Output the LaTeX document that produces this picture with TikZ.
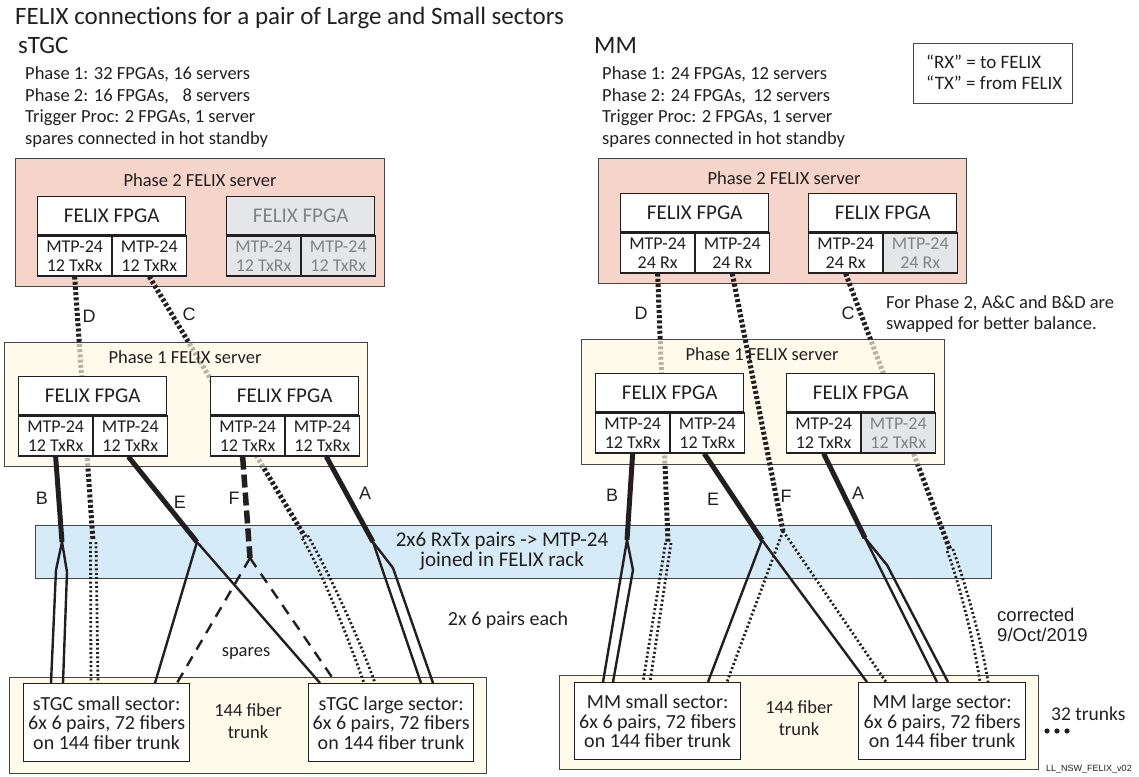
\documentclass[tikz,border=0pt]{standalone}
\usepackage{fontspec}
\setmainfont{Carlito}
\newfontfamily\arialfont{Liberation Sans}
\usetikzlibrary{calc}

\definecolor{ink}{RGB}{35,31,32}
\definecolor{edge}{RGB}{70,70,70}
\definecolor{pinkfill}{RGB}{245,212,201}
\definecolor{creamserver}{RGB}{253,249,228}
\definecolor{creamtrunk}{RGB}{254,251,235}
\definecolor{bandblue}{RGB}{213,235,247}
\definecolor{idlefill}{RGB}{229,230,232}
\definecolor{idletext}{RGB}{130,130,130}

\newcommand\fsz[2]{\fontsize{#1}{#2}\selectfont}

\tikzset{
  box/.style={draw=edge, line width=1.3pt, inner sep=0pt, anchor=north west, text=ink},
  srvtwo/.style={box, fill=pinkfill},
  srvone/.style={box, fill=creamserver, fill opacity=0.68, text opacity=1},
  trunkbox/.style={box, fill=creamtrunk},
  fpgatitle/.style={box, draw=ink, fill=white, font=\fsz{21}{24}, minimum width=148pt, minimum height=38pt},
  mtpcell/.style={box, draw=ink, fill=white, align=center, font=\fsz{18}{18.5}, minimum width=74pt, minimum height=40pt},
  idle/.style={fill=idlefill, text=idletext},
  sector/.style={box, draw=ink, fill=white, align=center, font=\fsz{20}{19.5}},
  txtlbl/.style={text=ink, font=\fsz{18.5}{21}, inner sep=0pt},
  headline/.style={text=ink, font=\fsz{25}{28}, inner sep=0pt, anchor=base west},
  letter/.style={text=ink, font=\arialfont\fsz{18}{20}, inner sep=0pt},
  bundle/.style={draw=ink, line width=5pt},
  pair/.style={draw=ink, line width=2.4pt},
  bundledot/.style={draw=ink, line width=5pt, dash pattern=on 3pt off 2.2pt},
  pairdot/.style={draw=ink, line width=2.8pt, dash pattern=on 2pt off 2.4pt},
  bundledash/.style={draw=ink, line width=5.5pt, dash pattern=on 13pt off 5pt},
  pairdash/.style={draw=ink, line width=2.4pt, dash pattern=on 11pt off 8pt},
}

% FELIX FPGA card: title box with two MTP-24 cells below it
% #1 name, #2 top-left corner, #3 title style, #4 left cell style, #5 right cell style, #6 cell text
\newcommand\felixcard[6]{%
  \node[fpgatitle,#3] (#1) at #2 {FELIX FPGA};
  \node[mtpcell,#4] (#1-l) at (#1.south west) {#6};
  \node[mtpcell,#5] (#1-r) at (#1.south) {#6};
}

\begin{document}
\begin{tikzpicture}[x=1pt,y=-1pt]
\useasboundingbox (0,0) rectangle (1139,776);

% ---------- headings and notes ----------
\node[headline] (title) at (15,25) {FELIX connections for a pair of Large and Small sectors};
\node[headline] (stgc) at (18,53) {sTGC};
\node[headline] (mm) at (594,54) {MM};

\node[txtlbl, anchor=base west] (sn1) at (25,79) {Phase 1: 32 FPGAs, 16 servers};
\node[txtlbl, anchor=base west] (sn2) at (25,101) {Phase 2: 16 FPGAs, \hphantom{1}8 servers};
\node[txtlbl, anchor=base west] (sn3) at (25,122) {Trigger Proc: 2 FPGAs, 1 server};
\node[txtlbl, anchor=base west] (sn4) at (25,144) {spares connected in hot standby};

\node[txtlbl, anchor=base west] (mn1) at (602,79) {Phase 1: 24 FPGAs, 12 servers};
\node[txtlbl, anchor=base west] (mn2) at (602,101) {Phase 2: 24 FPGAs, \kern3pt12 servers};
\node[txtlbl, anchor=base west] (mn3) at (602,122) {Trigger Proc: 2 FPGAs, 1 server};
\node[txtlbl, anchor=base west] (mn4) at (602,144) {spares connected in hot standby};

\node[box, minimum width=159pt, minimum height=60pt] (legend) at (913,43) {};
\node[txtlbl, anchor=base west, font=\fsz{19}{21}] (rx) at (926,68) {“RX” = to FELIX};
\node[txtlbl, anchor=base west, font=\fsz{19}{21}] (tx) at (926,89) {“TX” = from FELIX};

\node[txtlbl, anchor=base west] (swap1) at (886,308) {For Phase 2, A\&C and B\&D are};
\node[txtlbl, anchor=base west] (swap2) at (886,329) {swapped for better balance.};

% ---------- Phase 2 servers ----------
\node[srvtwo, minimum width=369pt, minimum height=128pt] (stgc-p2) at (15,158) {};
\node[txtlbl] (stgc-p2-name) at (200,180) {Phase 2 FELIX server};
\felixcard{s2a}{(37,196)}{}{}{}{MTP-24\\12 TxRx}
\felixcard{s2b}{(226,196)}{idle}{idle}{idle}{MTP-24\\12 TxRx}

\node[srvtwo, minimum width=368pt, minimum height=125pt] (mm-p2) at (598,158) {};
\node[txtlbl] (mm-p2-name) at (784,178) {Phase 2 FELIX server};
\felixcard{m2a}{(620,193)}{}{}{}{MTP-24\\24 Rx}
\felixcard{m2b}{(808,193)}{}{}{idle}{MTP-24\\24 Rx}

% ---------- patch band ----------
\node[box, fill=bandblue, minimum width=956pt, minimum height=53pt] (band) at (35,525) {};
\node[txtlbl, align=center, font=\fsz{21}{20.5}] (bandtext) at (502,551) {2x6 RxTx pairs -> MTP-24\\joined in FELIX rack};

% ---------- trunks and sectors ----------
\node[trunkbox, minimum width=477pt, minimum height=96pt] (stgc-trunk) at (9,677) {};
\node[sector, minimum width=166pt, minimum height=78pt] (ss) at (23,683) {sTGC small sector:\\6x 6 pairs, 72 fibers\\on 144 fiber trunk};
\node[sector, minimum width=165pt, minimum height=78pt] (sl) at (308,683) {sTGC large sector:\\6x 6 pairs, 72 fibers\\on 144 fiber trunk};
\node[txtlbl, align=center, font=\fsz{18.5}{22}] (stgc-fib) at (248,721) {144 fiber\\trunk};

\node[trunkbox, minimum width=479pt, minimum height=94pt] (mm-trunk) at (559,675) {};
\node[sector, minimum width=166pt, minimum height=77pt] (ms) at (574,682) {MM small sector:\\6x 6 pairs, 72 fibers\\on 144 fiber trunk};
\node[sector, minimum width=167pt, minimum height=77pt] (ml) at (858,682) {MM large sector:\\6x 6 pairs, 72 fibers\\on 144 fiber trunk};
\node[txtlbl, align=center, font=\fsz{18.5}{22}] (mm-fib) at (799,718) {144 fiber\\trunk};

\node[txtlbl] (spares) at (246,653) {spares};
\node[txtlbl, font=\fsz{20}{22}] (each) at (508,620) {2x 6 pairs each};
\node[txtlbl, anchor=base west, font=\arialfont\fsz{18.5}{20}] (corr1) at (997,621) {corrected};
\node[txtlbl, anchor=base west, font=\arialfont\fsz{18.5}{20}] (corr2) at (997,641) {9/Oct/2019};
\node[txtlbl, anchor=base west, font=\fsz{19.5}{22}] (trunks) at (1051,720) {32 trunks};
\foreach \dx in {1047,1057,1067} \fill[ink] (\dx,731) circle (2.6);
\node[txtlbl, anchor=base west, font=\arialfont\fsz{9}{10}] (tag) at (1046,771) {LL\_NSW\_FELIX\_v02};

% ---------- fibre end points on the sector boxes ----------
\coordinate (ss-b1) at ($(ss.north west)+(28,0)$);
\coordinate (ss-b2) at ($(ss.north west)+(40,0)$);
\coordinate (ss-d1) at ($(ss.north west)+(68,0)$);
\coordinate (ss-d2) at ($(ss.north west)+(75,0)$);
\coordinate (ss-e)  at ($(ss.north west)+(132,0)$);
\coordinate (ss-f)  at ($(ss.north west)+(154,0)$);
\coordinate (sl-e)  at ($(sl.north west)+(12,0)$);
\coordinate (sl-f)  at ($(sl.north west)+(28,0)$);
\coordinate (sl-c1) at ($(sl.north west)+(56,0)$);
\coordinate (sl-c2) at ($(sl.north west)+(67,0)$);
\coordinate (sl-a1) at ($(sl.north west)+(113,0)$);
\coordinate (sl-a2) at ($(sl.north west)+(125,0)$);

\coordinate (ms-b1) at ($(ms.north west)+(29,0)$);
\coordinate (ms-b2) at ($(ms.north west)+(39,0)$);
\coordinate (ms-d1) at ($(ms.north west)+(69,0)$);
\coordinate (ms-d2) at ($(ms.north west)+(76,0)$);
\coordinate (ms-e)  at ($(ms.north west)+(134,0)$);
\coordinate (ms-f)  at ($(ms.north west)+(153,0)$);
\coordinate (ml-e)  at ($(ml.north west)+(9,0)$);
\coordinate (ml-f)  at ($(ml.north west)+(28,0)$);
\coordinate (ml-a1) at ($(ml.north west)+(79,0)$);
\coordinate (ml-a2) at ($(ml.north west)+(90,0)$);
\coordinate (ml-c1) at ($(ml.north west)+(122,0)$);
\coordinate (ml-c2) at ($(ml.north west)+(130,0)$);

% ---------- fan-out points in the patch band ----------
\coordinate (sB) at (62,542);
\coordinate (sD) at (93,541);  \coordinate (sDl) at (90.5,542); \coordinate (sDr) at (96,542);
\coordinate (sE) at (197,542);
\coordinate (sF) at (250,558);
\coordinate (sC) at (305,537); \coordinate (sCl) at (302.4,538.5); \coordinate (sCr) at (307.6,535.5);
\coordinate (sA) at (373,542);

\coordinate (mB) at (627,540);
\coordinate (mD) at (668,542); \coordinate (mDl) at (665.5,543); \coordinate (mDr) at (671,543);
\coordinate (mE) at (762,540);
\coordinate (mF) at (783,531);
\coordinate (mA) at (865,538);
\coordinate (mC) at (950,550); \coordinate (mCl) at (947.2,551); \coordinate (mCr) at (952.8,549);

% ---------- Phase 2 links that run behind the Phase 1 servers ----------
\draw[bundledot] (s2a-l.south) -- (sD);
\draw[pairdot] (sDl) -- (ss-d1);
\draw[pairdot] (sDr) -- (ss-d2);
\draw[bundledot] (s2a-r.south) -- (sC);
\draw[pairdot] (sCl) .. controls (322.8,573) and (350,643) .. (sl-c1);
\draw[pairdot] (sCr) .. controls (328,570) and (361,643) .. (sl-c2);

\draw[bundledot] (m2a-l.south) -- (mD);
\draw[pairdot] (mDl) -- (ms-d1);
\draw[pairdot] (mDr) -- (ms-d2);
\draw[bundledot] (m2b-l.south) -- (mC);
\draw[pairdot] (mCl) .. controls (959.5,584) and (974,642) .. (ml-c1);
\draw[pairdot] (mCr) .. controls (965,582) and (982,642) .. (ml-c2);

% ---------- Phase 1 servers ----------
\node[srvone, minimum width=363pt, minimum height=124pt] (stgc-p1) at (4,342) {};
\node[txtlbl] (stgc-p1-name) at (185,357) {Phase 1 FELIX server};
\felixcard{s1a}{(18,376)}{}{}{}{MTP-24\\12 TxRx}
\felixcard{s1b}{(210,376)}{}{}{}{MTP-24\\12 TxRx}

\node[srvone, minimum width=363pt, minimum height=125pt] (mm-p1) at (581,339) {};
\node[txtlbl] (mm-p1-name) at (762,354) {Phase 1 FELIX server};
\felixcard{m1a}{(595,373)}{}{}{}{MTP-24\\12 TxRx}
\felixcard{m1b}{(786,373)}{}{}{idle}{MTP-24\\12 TxRx}

% ---------- sTGC Phase 1 links ----------
\draw[bundle] (s1a-l.south) -- (sB);
\draw[pair] (sB) -- (56,570) -- (ss-b1);
\draw[pair] (sB) -- (67,572) -- (ss-b2);
\draw[bundle] ([xshift=-2pt]s1a-r.south) -- (sE);
\draw[pair] (sE) -- (sl-e);
\draw[pair] (sE) -- (ss-e);
\draw[bundledash] ([xshift=-5pt]s1b-l.south) -- (sF);
\draw[pairdash] (sF) -- (ss-f);
\draw[pairdash] (sF) -- (sl-f);
\draw[bundle] ([xshift=4pt]s1b-r.south) -- (sA);
\draw[pair] (sA) -- (sl-a1);
\draw[pair] (sA) -- (393,568) -- (sl-a2);

% ---------- MM Phase 1 links and the Phase 2 link drawn over the server ----------
\draw[bundle] (m1a-l.south) -- (mB);
\draw[pair] (mB) -- (ms-b1);
\draw[pair] (mB) -- (633,570) -- (ms-b2);
\draw[bundle] ([xshift=-3pt]m1a-r.south) -- (mE);
\draw[pair] (mE) -- (ml-e);
\draw[pair] (mE) -- (ms-e);
\draw[bundledot] (m2a-r.south) -- (mF);
\draw[pairdot] (mF) -- (ms-f);
\draw[pairdot] (mF) -- (ml-f);
\draw[bundle] (m1b-l.south) -- (mA);
\draw[pair] (mA) -- (ml-a1);
\draw[pair] (mA) -- (887,565) -- (ml-a2);

% ---------- link letters ----------
\node[letter] (lsD) at (89,316) {D};
\node[letter] (lsC) at (189,314) {C};
\node[letter] (lmD) at (641,313) {D};
\node[letter] (lmC) at (848,313) {C};
\node[letter] (lsB) at (42,498) {B};
\node[letter] (lsE) at (180,502) {E};
\node[letter] (lsF) at (234,498) {F};
\node[letter] (lsA) at (365,493) {A};
\node[letter] (lmB) at (612,495) {B};
\node[letter] (lmE) at (713,499) {E};
\node[letter] (lmF) at (786,496) {F};
\node[letter] (lmA) at (858,493) {A};
\end{tikzpicture}
\end{document}
